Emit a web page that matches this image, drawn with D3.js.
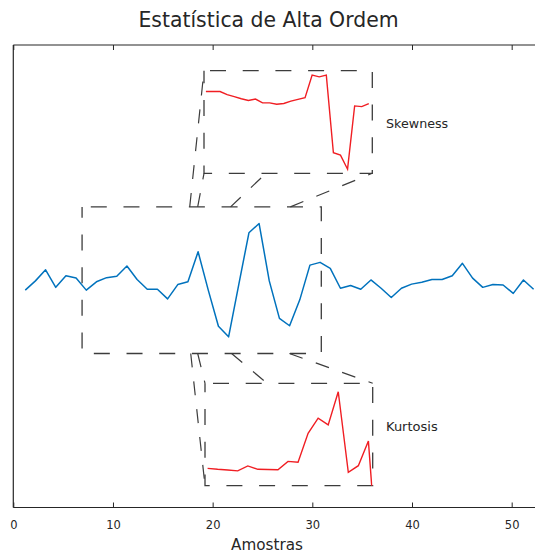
<!DOCTYPE html>
<html>
<head>
<meta charset="utf-8">
<script src="https://cdn.jsdelivr.net/npm/d3@7"></script>
<style>
  html, body { margin: 0; padding: 0; background: #fff; }
  svg { display: block; }
  text { font-family: "DejaVu Sans", sans-serif; fill: #262626; }
</style>
</head>
<body>
<svg id="chart" width="535" height="554"></svg>
<script>
// ---- data ----
const title = "Estatística de Alta Ordem";
const xLabel = "Amostras";
const xTicks = [0, 10, 20, 30, 40, 50];

// sampled signal (blue trace)
const sinal = [
  -0.30, -0.10, 0.14, -0.24, 0.01, -0.04, -0.30, -0.12, -0.03, 0.00,
   0.22, -0.07, -0.28, -0.28, -0.49, -0.18, -0.12, 0.53, -0.30, -1.08,
  -1.31, -0.18, 0.94, 1.14, -0.10, -0.91, -1.07, -0.51, 0.24, 0.30,
   0.17, -0.26, -0.20, -0.28, -0.08, -0.26, -0.46, -0.26, -0.17, -0.13,
  -0.07, -0.07, 0.01, 0.28, -0.04, -0.24, -0.18, -0.19, -0.37, -0.08,
  -0.28
];
const primeiraAmostra = 1.2;
const passoAmostra = 1.02;

// higher-order statistics over the highlighted window
const skewness = [
  0.89, 0.89, 0.89, 0.80, 0.74, 0.68, 0.63, 0.67, 0.56, 0.56,
  0.52, 0.54, 0.61, 0.66, 0.71, 1.37, 1.32, 1.37, -0.90, -0.97,
  -1.38, 0.47, 0.45, 0.54
];
const kurtosis = [
  2.76, 2.72, 2.69, 2.65, 2.87, 2.72, 2.71, 2.70, 3.07, 3.03,
  4.30, 4.97, 4.67, 6.13, 2.59, 2.88, 3.96, -2.0
];

// highlighted window on the signal (x in samples, y in amplitude)
const janela = { x0: 6.9, x1: 30.9, y0: -1.67, y1: 1.5 };
// where the projection lines leave the window edge (in samples)
const ancorasSkew = [17.7, 18.5, 21.8, 27.8];
const ancorasKurt = [17.8, 18.5, 21.9, 27.7];

// ---- layout ----
const svg = d3.select("#chart");
const W = 535, H = 554;
const plot = { left: 13.3, top: 45, bottom: 507.5, right: 535 };

const x = d3.scaleLinear().domain([0, 52.34]).range([plot.left, plot.right]);
const y = d3.scaleLinear().domain([-5, 5]).range([plot.bottom, plot.top]);

const dash = "16,16.7";
const dashColor = "#3c3c3c";

// title
svg.append("text")
  .attr("x", 268.5).attr("y", 27)
  .attr("text-anchor", "middle")
  .style("font-size", "20.4px")
  .text(title);

// axes frame: left, top and bottom lines
const frame = svg.append("g").attr("stroke", "#262626").attr("stroke-width", 1.2).attr("fill", "none");
frame.append("line").attr("x1", plot.left).attr("x2", plot.left).attr("y1", plot.top).attr("y2", plot.bottom);
frame.append("line").attr("x1", plot.left).attr("x2", plot.right).attr("y1", plot.top).attr("y2", plot.top);
frame.append("line").attr("x1", plot.left).attr("x2", plot.right).attr("y1", plot.bottom).attr("y2", plot.bottom);

// bottom axis: inward ticks with labels
const axB = svg.append("g")
  .attr("transform", `translate(0,${plot.bottom})`)
  .call(d3.axisBottom(x).tickValues(xTicks).tickSizeInner(-5).tickSizeOuter(0).tickPadding(13));
axB.select(".domain").remove();
axB.selectAll(".tick line").attr("stroke", "#262626");
axB.selectAll(".tick text").style("font-family", "DejaVu Sans, sans-serif").style("font-size", "11.5px").attr("fill", "#262626");

// top axis: inward ticks, no labels
const axT = svg.append("g")
  .attr("transform", `translate(0,${plot.top})`)
  .call(d3.axisTop(x).tickValues(xTicks).tickSizeInner(-5).tickSizeOuter(0).tickFormat(""));
axT.select(".domain").remove();
axT.selectAll(".tick line").attr("stroke", "#262626");

// x label
svg.append("text")
  .attr("x", 267).attr("y", 550)
  .attr("text-anchor", "middle")
  .style("font-size", "15.2px")
  .text(xLabel);

// signal trace
const linha = d3.line()
  .x((d, i) => x(primeiraAmostra + i * passoAmostra))
  .y(d => y(d));
svg.append("path")
  .datum(sinal)
  .attr("fill", "none")
  .attr("stroke", "#0072BD")
  .attr("stroke-width", 1.5)
  .attr("stroke-linejoin", "round")
  .attr("d", linha);

// dashed window around the central part of the signal
const jx0 = x(janela.x0), jx1 = x(janela.x1), jy0 = y(janela.y1), jy1 = y(janela.y0);
function dashedRect(g, x0, y0, x1, y1, offset) {
  g.append("path")
    .attr("d", `M${x0},${y0}H${x1}V${y1}H${x0}Z`)
    .attr("fill", "none")
    .attr("stroke", dashColor)
    .attr("stroke-width", 1.3)
    .attr("stroke-dasharray", dash)
    .attr("stroke-dashoffset", offset);
}
dashedRect(svg, jx0, jy0, jx1, jy1, -8.7);

// inset panels
const insetSkew = { x0: 204, x1: 372.3, y0: 70.7, y1: 173.3 };
const insetKurt = { x0: 205, x1: 372.7, y0: 383.3, y1: 485.7 };

dashedRect(svg, insetSkew.x0, insetSkew.y0, insetSkew.x1, insetSkew.y1, -6);
dashedRect(svg, insetKurt.x0, insetKurt.y0, insetKurt.x1, insetKurt.y1, -8);

// projection lines from the window to the insets
function dashedLine(x1, y1, x2, y2) {
  svg.append("line")
    .attr("x1", x1).attr("y1", y1).attr("x2", x2).attr("y2", y2)
    .attr("stroke", dashColor)
    .attr("stroke-width", 1.2)
    .attr("stroke-dasharray", "14,14");
}
const alvosSkew = [
  [insetSkew.x0, insetSkew.y0], [insetSkew.x0, insetSkew.y1],
  [266, insetSkew.y1], [insetSkew.x1, insetSkew.y1]
];
ancorasSkew.forEach((a, i) => dashedLine(x(a), jy0, alvosSkew[i][0], alvosSkew[i][1]));
const alvosKurt = [
  [insetKurt.x0, insetKurt.y1], [insetKurt.x0, insetKurt.y0],
  [267, insetKurt.y0], [insetKurt.x1, insetKurt.y0]
];
ancorasKurt.forEach((a, i) => dashedLine(x(a), jy1, alvosKurt[i][0], alvosKurt[i][1]));

// skewness inset
const clipS = svg.append("clipPath").attr("id", "clipS").append("rect")
  .attr("x", insetSkew.x0).attr("y", insetSkew.y0)
  .attr("width", insetSkew.x1 - insetSkew.x0).attr("height", insetSkew.y1 - insetSkew.y0);
const sx = d3.scaleLinear().domain([0, skewness.length - 1]).range([205.9, 368.8]);
const sy = d3.scaleLinear().domain([-1.5, 1.5]).range([insetSkew.y1, insetSkew.y0]);
svg.append("path")
  .datum(skewness)
  .attr("clip-path", "url(#clipS)")
  .attr("fill", "none").attr("stroke", "#f01e23").attr("stroke-width", 1.4)
  .attr("d", d3.line().x((d, i) => sx(i)).y(d => sy(d)));

// kurtosis inset
svg.append("clipPath").attr("id", "clipK").append("rect")
  .attr("x", insetKurt.x0).attr("y", insetKurt.y0)
  .attr("width", insetKurt.x1 - insetKurt.x0).attr("height", insetKurt.y1 - insetKurt.y0);
const kx = d3.scaleLinear().domain([0, 1]).range([207.6, 217.65]);
const ky = d3.scaleLinear().domain([2, 6.5]).range([insetKurt.y1, insetKurt.y0]);
svg.append("path")
  .datum(kurtosis)
  .attr("clip-path", "url(#clipK)")
  .attr("fill", "none").attr("stroke", "#f01e23").attr("stroke-width", 1.4)
  .attr("d", d3.line().x((d, i) => kx(i)).y(d => ky(d)));

// inset labels
svg.append("text").attr("x", 386).attr("y", 127.5).style("font-size", "12.7px").text("Skewness");
svg.append("text").attr("x", 386).attr("y", 430.5).style("font-size", "13px").text("Kurtosis");
</script>
</body>
</html>
